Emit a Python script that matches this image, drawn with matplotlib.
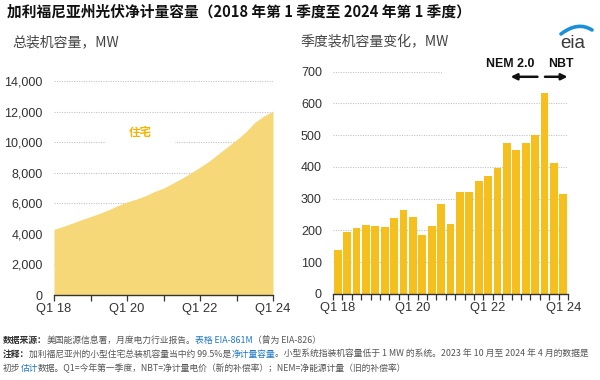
import matplotlib
matplotlib.use("Agg")
import matplotlib.pyplot as plt
from matplotlib.patches import Rectangle, PathPatch
from matplotlib.path import Path
import numpy as np

# ---------------- data ----------------
quarters = ["Q1 18", "Q2 18", "Q3 18", "Q4 18",
            "Q1 19", "Q2 19", "Q3 19", "Q4 19",
            "Q1 20", "Q2 20", "Q3 20", "Q4 20",
            "Q1 21", "Q2 21", "Q3 21", "Q4 21",
            "Q1 22", "Q2 22", "Q3 22", "Q4 22",
            "Q1 23", "Q2 23", "Q3 23", "Q4 23",
            "Q1 24"]
total_mw = [4300, 4490, 4700, 4920, 5130, 5340, 5580, 5850, 6090, 6270,
            6490, 6770, 6990, 7310, 7630, 7990, 8360, 8760, 9230, 9690,
            10160, 10660, 11290, 11710, 12020]
quarterly_mw = [140, 195, 207, 216, 214, 210, 240, 265, 243, 185, 215, 283,
                220, 320, 320, 355, 372, 398, 475, 453, 475, 500, 632, 413, 316]
xtick_labels = ["Q1 18", "Q1 20", "Q1 22", "Q1 24"]
left_yticks = [0, 2000, 4000, 6000, 8000, 10000, 12000, 14000]
right_yticks = [0, 100, 200, 300, 400, 500, 600, 700]

title = "加利福尼亚州光伏净计量容量（2018 年第 1 季度至 2024 年第 1 季度）"
sub_left = "总装机容量，MW"
sub_right = "季度装机容量变化，MW"
area_label = "住宅"

CJK = ["Noto Sans CJK SC", "DejaVu Sans"]
LAT = ["Liberation Sans", "DejaVu Sans"]

AREA_C = "#F7D878"
BAR_C = "#F5C01E"
LABEL_C = "#F5B300"
TICK_C = "#333333"
GRID_C = "#c4c4c4"
GREY = "#555555"
BLUE = "#1f78c8"

W, H = 600, 380
fig = plt.figure(figsize=(6, 3.8), dpi=100)
fig.patch.set_facecolor("white")

def fx(px):
    return px / W

def fy(py):
    return 1 - py / H

def style_axes(ax):
    for s in ["top", "right", "left"]:
        ax.spines[s].set_visible(False)
    ax.spines["bottom"].set_color(TICK_C)
    ax.spines["bottom"].set_linewidth(1.0)
    ax.tick_params(axis="y", length=0, pad=8, labelsize=9, labelcolor=TICK_C)
    ax.tick_params(axis="x", which="both", length=4, width=0.9, color=TICK_C,
                   pad=1.5, labelsize=9.3, labelcolor=TICK_C)
    ax.set_axisbelow(True)
    ax.yaxis.grid(True, linestyle=(0, (1, 1.2)), color=GRID_C, linewidth=0.8)
    for lab in ax.get_xticklabels() + ax.get_yticklabels():
        lab.set_family(LAT)

# ---------------- left: total capacity ----------------
axL = fig.add_axes([fx(54), fy(295), fx(273 - 54), (295 - 81) / H])
xL = np.arange(len(total_mw))
axL.fill_between(xL, total_mw, 0, color=AREA_C, linewidth=0, zorder=2)
axL.set_xlim(0, len(total_mw) - 1)
axL.set_ylim(0, 14000)
axL.set_yticks(left_yticks)
axL.set_yticklabels([f"{v:,}" for v in left_yticks])
axL.set_xticks(np.arange(0, len(total_mw), 4))
axL.set_xticklabels([quarters[i] if quarters[i] in xtick_labels else ""
                     for i in range(0, len(total_mw), 4)])
style_axes(axL)
# white box behind the series label (gap in gridline)
axL.add_patch(Rectangle((5.7, 9700), 7.6, 1300, facecolor="white",
                        edgecolor="none", zorder=1))
axL.text(9.5, 10660, area_label, color=LABEL_C, fontsize=8.3,
         fontweight="bold", ha="center", va="center", family=CJK, zorder=3)

# ---------------- right: quarterly additions ----------------
axR = fig.add_axes([fx(333), fy(294), fx(568 - 333), (294 - 71.7) / H])
xR = np.arange(len(quarterly_mw))
axR.bar(xR, quarterly_mw, width=0.82, color=BAR_C, linewidth=0, zorder=2)
axR.set_xlim(-0.5, len(quarterly_mw) - 0.5)
axR.set_ylim(0, 700)
axR.set_yticks(right_yticks)
axR.set_yticklabels([str(v) for v in right_yticks])
axR.set_xticks([quarters.index(q) for q in xtick_labels])
axR.set_xticklabels(xtick_labels)
axR.set_xticks(np.arange(-0.5, len(quarterly_mw), 1.0), minor=True)
style_axes(axR)
axR.tick_params(axis="x", which="major", length=0, pad=5.5)
axR.add_patch(Rectangle((11.1, 690), 13.5, 20, facecolor="white",
                        edgecolor="none", zorder=1, clip_on=False))

axR.text(18.3, 724, "NEM 2.0", fontsize=8.9, fontweight="bold", color="#111111",
         ha="center", va="center", family=LAT, clip_on=False)
axR.text(23.7, 724, "NBT", fontsize=8.9, fontweight="bold", color="#111111",
         ha="center", va="center", family=LAT, clip_on=False)
arrow_kw = dict(arrowstyle="-|>", color="#111111", lw=1.8, mutation_scale=9,
                shrinkA=0, shrinkB=0)
axR.annotate("", xy=(18.4, 684), xytext=(21.25, 684), arrowprops=arrow_kw,
             annotation_clip=False)
axR.annotate("", xy=(24.45, 684), xytext=(22.05, 684), arrowprops=arrow_kw,
             annotation_clip=False)

# ---------------- titles ----------------
fig.text(fx(7), fy(12), title, fontsize=10.6, fontweight="bold",
         color="#111111", ha="left", va="center", family=CJK)
fig.text(fx(12), fy(42), sub_left, fontsize=10, style="italic",
         color="#444444", ha="left", va="center", family=CJK)
fig.text(fx(300), fy(42), sub_right, fontsize=10, style="italic",
         color="#444444", ha="left", va="center", family=CJK)

# eia logo
fig.text(fx(573), fy(44), "eia", fontsize=13.5, color="#3a3a3a",
         ha="center", va="center", family=LAT)
verts = [(fx(561), fy(34)), (fx(578), fy(21)), (fx(592), fy(30))]
swoosh = PathPatch(Path(verts, [Path.MOVETO, Path.CURVE3, Path.CURVE3]),
                   transform=fig.transFigure, facecolor="none",
                   edgecolor="#1b8fd8", lw=2.6, capstyle="round")
fig.add_artist(swoosh)

# ---------------- notes ----------------
DARK = "#333333"
note_lines = [
    (340, [("数据来源：", DARK, "bold"),
           ("美国能源信息署，月度电力行业报告。", GREY, "normal"),
           ("表格 EIA-861M", BLUE, "normal"),
           ("（曾为 EIA-826）", GREY, "normal")]),
    (354, [("注释：", DARK, "bold"),
           ("加利福尼亚州的小型住宅总装机容量当中约 99.5%是", GREY, "normal"),
           ("净计量容量", BLUE, "normal"),
           ("。小型系统指装机容量低于 1 MW 的系统。2023 年 10 月至 2024 年 4 月的数据是",
            GREY, "normal")]),
    (368, [("初步", GREY, "normal"),
           ("估计", BLUE, "normal"),
           ("数据。Q1=今年第一季度，NBT=净计量电价（新的补偿率）；NEM=净能源计量（旧的补偿率）",
            GREY, "normal")]),
]
renderer = fig.canvas.get_renderer()
for ypx, parts in note_lines:
    x = fx(3)
    for s, c, w in parts:
        t = fig.text(x, fy(ypx), s, fontsize=6.35, color=c, fontweight=w,
                     ha="left", va="center", family=CJK)
        bb = t.get_window_extent(renderer)
        x = bb.x1 / fig.bbox.width

fig.savefig("out.png", dpi=100, facecolor="white")
